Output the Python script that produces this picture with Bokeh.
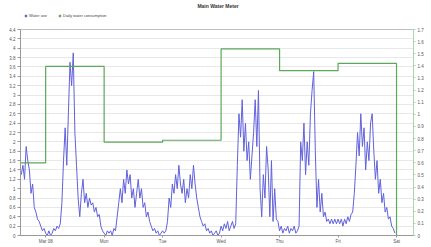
from bokeh.plotting import figure
from bokeh.layouts import column
from bokeh.models import Range1d, LinearAxis, FixedTicker, Legend, LegendItem, Label
from bokeh.embed import file_html
from bokeh.resources import INLINE

# ---------------- data ----------------
chart_title = "Main Water Meter"
left_unit = "m³"
right_unit = "m³"
series_names = ["Water use", "Daily water consumption"]

day_ticks = [0, 1, 2, 3, 4, 5, 6]
day_labels = ["Mar 08", "Mon", "Tue", "Wed", "Thu", "Fri", "Sat"]

samples_per_day = 36          # one reading every 40 minutes
first_sample_day = -15 / 36   # readings start in the afternoon before day 0

water_partial = [1.3, 1.5, 1.2, 1.9, 1.6, 1.4, 0.9, 1.1, 0.6, 0.5, 0.35, 0.3, 0.2, 0.1, 0.15]
water_day0 = [0.05, 0.0, 0.1, 0.0, 0.05, 0.15, 0.1, 0.2, 0.15, 0.25, 0.7, 1.6,
              2.3, 1.5, 2.6, 3.7, 3.2, 3.9, 2.2, 1.5, 0.8, 0.4, 0.9, 1.2,
              0.7, 0.9, 0.6, 0.8, 0.65, 0.7, 0.5, 0.6, 0.4, 0.45, 0.2, 0.1]
water_day1 = [0.05, 0.0, 0.1, 0.05, 0.1, 0.0, 0.15, 0.1, 0.4, 0.7, 1.0, 0.7,
              1.2, 0.9, 1.4, 1.1, 1.3, 0.8, 1.0, 0.6, 0.9, 1.2, 0.8, 1.0,
              0.6, 0.7, 0.4, 0.5, 0.3, 0.2, 0.1, 0.15, 0.05, 0.1, 0.0, 0.05]
water_day2 = [0.1, 0.05, 0.1, 0.3, 0.8, 0.6, 1.1, 0.9, 1.3, 1.0, 1.5, 1.1,
              0.9, 1.2, 0.7, 1.0, 0.8, 1.3, 1.0, 1.5, 1.1, 0.8, 0.6, 0.4,
              0.3, 0.2, 0.25, 0.1, 0.15, 0.05, 0.1, 0.0, 0.05, 0.1, 0.0, 0.05]
water_day3 = [0.2, 0.1, 0.25, 0.15, 0.3, 0.1, 0.2, 0.3, 0.15, 0.25, 1.5, 2.6,
              2.1, 2.9, 1.8, 2.4, 1.6, 2.0, 1.2, 1.7, 2.2, 2.9, 1.9, 3.1,
              1.0, 0.4, 1.3, 0.8, 1.9, 1.4, 0.4, 1.6, 0.3, 1.0, 0.35, 0.3]
water_day4 = [0.1, 0.2, 0.05, 0.15, 0.1, 0.2, 0.05, 0.15, 0.1, 0.2, 0.05, 0.1,
              0.2, 2.0, 1.6, 2.4, 1.3, 2.0, 1.5, 2.6, 3.1, 3.5, 1.8, 0.6,
              1.2, 0.5, 0.9, 0.4, 0.5, 0.3, 0.35, 0.25, 0.35, 0.25, 0.35, 0.25]
water_day5 = [0.35, 0.25, 0.35, 0.2, 0.35, 0.25, 0.4, 0.3, 0.45, 0.5, 0.9, 1.5,
              2.2, 1.7, 2.6, 1.9, 2.3, 1.4, 2.0, 1.6, 2.4, 2.6, 1.8, 1.2,
              1.6, 0.9, 1.2, 0.7, 0.9, 0.5, 0.6, 0.35, 0.4, 0.2, 0.15, 0.05]

daily_start_days = [-0.43, 0, 1, 2, 3, 4, 5, 6]
daily_consumption = [0.60, 1.395, 0.77, 0.786, 1.54, 1.36, 1.42, 0.0]

left_ticks = [round(i * 0.2, 1) for i in range(23)]
right_ticks = [round(i * 0.1, 1) for i in range(18)]

# -------------- assemble --------------
water = water_partial + water_day0 + water_day1 + water_day2 + water_day3 + water_day4 + water_day5
water_t = [first_sample_day + i / samples_per_day for i in range(len(water))]

FONT = "Liberation Sans"
BLUE = "#6161dc"
GREEN = "#5aa85a"
NAN = float("nan")

# ---- header strip: title + legend ----
head = figure(width=431, height=22, x_axis_type=None, y_axis_type=None,
              toolbar_location=None, output_backend="svg",
              x_range=Range1d(0, 1), y_range=Range1d(0, 1),
              min_border_left=0, min_border_right=0, min_border_top=0, min_border_bottom=0)
head.outline_line_color = None
head.xgrid.grid_line_color = None
head.ygrid.grid_line_color = None
head.title.text = chart_title
head.title.align = "center"
head.title.text_font = FONT
head.title.text_font_size = "5px"
head.title.text_font_style = "bold"
head.title.text_color = "#333333"
head.title.standoff = 0
head.title.offset = 6

# legend keys only (no visible data points)
k_water = head.scatter([NAN], [NAN], marker="circle", size=4, color=BLUE)
k_daily = head.scatter([NAN], [NAN], marker="circle", size=4, color=GREEN)
leg = Legend(items=[LegendItem(label=series_names[0], renderers=[k_water], index=0),
                    LegendItem(label=series_names[1], renderers=[k_daily], index=0)],
             orientation="horizontal", location=(3, 4),
             label_text_font=FONT, label_text_font_size="4px", label_text_color="#444444",
             label_height=5, label_standoff=1, glyph_height=5, glyph_width=5,
             spacing=8, padding=0, margin=0, border_line_color=None,
             background_fill_alpha=0)
head.add_layout(leg, "center")

# ---- main chart ----
p = figure(frame_width=393, frame_height=206, output_backend="svg", toolbar_location=None,
           x_range=Range1d(-0.43, 6.29), y_range=Range1d(0, 4.4),
           min_border_left=20, min_border_right=16, min_border_top=7, min_border_bottom=8)
p.extra_y_ranges = {"daily": Range1d(0, 1.7)}

p.outline_line_color = "#c0c0c0"
p.outline_line_width = 1
p.background_fill_color = "white"
p.border_fill_color = "white"

p.xgrid.grid_line_color = None
p.ygrid.grid_line_color = "#e8e8e8"
p.ygrid.ticker = FixedTicker(ticks=left_ticks)

ya = p.yaxis[0]
ya.ticker = FixedTicker(ticks=left_ticks)
ya.major_label_overrides = {v: f"{v:g}" for v in left_ticks}
ya.major_label_text_font = FONT
ya.major_label_text_font_size = "4.5px"
ya.major_label_text_color = "#555555"
ya.axis_line_color = "#999999"
ya.major_tick_line_color = "#999999"
ya.major_tick_out = 3
ya.major_tick_in = 0
ya.minor_tick_line_color = None
ya.major_label_standoff = 2

xa = p.xaxis[0]
xa.ticker = FixedTicker(ticks=day_ticks)
xa.major_label_overrides = {d: lab for d, lab in zip(day_ticks, day_labels)}
xa.major_label_text_font = FONT
xa.major_label_text_font_size = "4.5px"
xa.major_label_text_color = "#555555"
xa.axis_line_color = "#999999"
xa.major_tick_line_color = "#999999"
xa.major_tick_out = 2
xa.major_tick_in = 0
xa.minor_tick_line_color = None
xa.major_label_standoff = 1

ra = LinearAxis(y_range_name="daily", ticker=FixedTicker(ticks=right_ticks))
ra.major_label_overrides = {v: f"{v:g}" for v in right_ticks}
ra.major_label_text_font = FONT
ra.major_label_text_font_size = "4.5px"
ra.major_label_text_color = "#555555"
ra.axis_line_color = "#a8d8a8"
ra.major_tick_line_color = "#a8d8a8"
ra.major_tick_out = 2
ra.major_tick_in = 0
ra.minor_tick_line_color = None
ra.major_label_standoff = 2
p.add_layout(ra, "right")

p.line(water_t, water, line_color=BLUE, line_width=1)
p.step(daily_start_days, daily_consumption, mode="after",
       line_color=GREEN, line_width=1.2, y_range_name="daily")

p.add_layout(Label(x=-0.43, y=4.4, x_offset=-9, y_offset=2, text=left_unit,
                   text_font=FONT, text_font_size="4px", text_color="#555555"))
p.add_layout(Label(x=6.29, y=4.4, x_offset=6, y_offset=2, text=right_unit,
                   text_font=FONT, text_font_size="4px", text_color="#555555"))

layout = column(head, p, spacing=0)
open("out.html", "w").write(file_html(layout, INLINE))
